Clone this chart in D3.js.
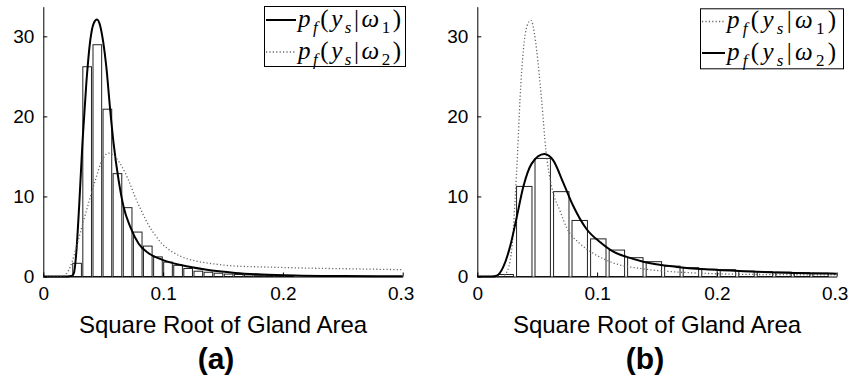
<!DOCTYPE html>
<html>
<head>
<meta charset="utf-8">
<script src="https://d3js.org/d3.v7.min.js"></script>
<style>
	body {
		margin: 0;
		background: #fff;
	}
	svg {
		display: block;
	}
	.axis path, .axis line {
		stroke: #000;
		stroke-width: 1px;
	}
	.bar {
		fill: #fff;
		stroke: #222;
		stroke-width: 1px;
	}
	.x-title {
		font-family: "Liberation Sans", Arial, Helvetica, sans-serif;
		font-size: 24px;
		text-anchor: middle;
	}
	.panel-label {
		font-family: "Liberation Sans", Arial, Helvetica, sans-serif;
		font-size: 30px;
		font-weight: bold;
		text-anchor: middle;
	}
	.math {
		font-family: "Liberation Serif", "Times New Roman", serif;
		font-size: 25px;
	}
	.solid {
		fill: none;
		stroke: #000;
		stroke-width: 2px;
	}
	.dotted {
		fill: none;
		stroke: #666;
		stroke-width: 1.3px;
		stroke-dasharray: 1.2, 2.2;
	}
</style>
</head>

<body>

	<script>

		// histogram (a): bin centres and heights
		var binsA = [0.0282, 0.0366, 0.0451, 0.0535, 0.0619, 0.0704, 0.0788, 0.0872, 0.0957, 0.1041, 0.1125,
			0.1209, 0.1294, 0.1378, 0.1462, 0.1547, 0.1631, 0.1715, 0.1800, 0.1884, 0.1968, 0.2053];
		var countsA = [1.65, 26.2, 28.95, 20.9, 12.85, 8.6, 5.55, 3.8, 2.45, 1.8, 1.4,
			1.0, 0.66, 0.53, 0.41, 0.3, 0.25, 0.2, 0.15, 0.1, 0.07, 0.05];

		// histogram (b)
		var binsB = [0.0237, 0.0392, 0.0546, 0.0701, 0.0855, 0.1010, 0.1165, 0.1319, 0.1474, 0.1628, 0.1783,
			0.1938, 0.2092, 0.2247, 0.2401, 0.2556, 0.2711, 0.2865];
		var countsB = [0.25, 11.25, 14.75, 10.6, 7.0, 4.7, 3.3, 2.35, 1.85, 1.3, 1.1,
			0.9, 0.85, 0.67, 0.6, 0.55, 0.47, 0.42];

		// density curves, [x, p]
		var curveA1 = [[0, 0], [0.020, 0], [0.0235, 0.05], [0.0255, 0.4], [0.0275, 2.9], [0.030, 9.0], [0.0328, 17.0],
			[0.0359, 24.1], [0.0392, 29.5], [0.0420, 31.6], [0.0448, 32.1], [0.0475, 31.3], [0.0500, 29.3],
			[0.0526, 26.2], [0.0559, 20.7], [0.0587, 16.6], [0.0629, 12.0], [0.067, 8.7], [0.0726, 6.2],
			[0.0796, 4.1], [0.0879, 2.9], [0.099, 2.1], [0.1157, 1.4], [0.1352, 0.87], [0.1603, 0.45],
			[0.1825, 0.25], [0.21, 0.12], [0.25, 0.05], [0.30, 0.02]];
		var curveA2 = [[0, 0], [0.016, 0], [0.019, 0.3], [0.0225, 1.2], [0.028, 3.9], [0.0337, 7.0], [0.0392, 9.9],
			[0.0434, 12.0], [0.049, 14.5], [0.0545, 15.4], [0.0601, 14.9], [0.0657, 13.7], [0.0712, 12.0],
			[0.0768, 9.9], [0.0824, 8.05], [0.0879, 6.4], [0.0935, 5.15], [0.099, 4.1], [0.1074, 3.1],
			[0.1157, 2.45], [0.1269, 1.95], [0.1436, 1.55], [0.1603, 1.3], [0.1825, 1.2], [0.22, 1.05],
			[0.26, 0.95], [0.30, 0.85]];
		var curveB1 = [[0, 0], [0.020, 0], [0.024, 0.4], [0.0287, 3.3], [0.0315, 9.5], [0.0337, 15.7], [0.0356, 22],
			[0.0384, 28.2], [0.0415, 31.3], [0.0448, 32], [0.0475, 30.5], [0.0496, 28.2], [0.0537, 22],
			[0.0573, 15.7], [0.0621, 11.2], [0.069, 8.2], [0.0746, 6.1], [0.0857, 4.1], [0.0968, 2.9],
			[0.1135, 1.7], [0.1386, 0.95], [0.166, 0.57], [0.194, 0.37], [0.236, 0.25], [0.29, 0.2], [0.30, 0.19]];
		var curveB2 = [[0, 0], [0.012, 0], [0.0162, 0.1], [0.0217, 1.2], [0.0273, 3.7], [0.0329, 7.4], [0.0384, 11.2],
			[0.0454, 14.1], [0.0559, 15.3], [0.0634, 14.5], [0.0718, 11.7], [0.0801, 8.8], [0.0913, 5.9],
			[0.1024, 4.3], [0.1135, 3.1], [0.1247, 2.45], [0.1386, 1.85], [0.1664, 1.2], [0.194, 0.87],
			[0.222, 0.66], [0.25, 0.5], [0.2916, 0.37], [0.30, 0.35]];

		var xTicks = [0, 0.1, 0.2, 0.3];
		var yTicks = [0, 10, 20, 30];
		var xTitle = "Square Root of Gland Area";
		var panelNames = ["(a)", "(b)"];

		var svg = d3.select("body").append("svg")
			.attr("width", 849)
			.attr("height", 380);

		svg.append("rect").attr("width", 849).attr("height", 380).attr("fill", "#fff");

		var yMax = 33.7;
		var plotTop = 6.7, plotBottom = 276.5;

		var panels = [
			{left: 43.3, right: 402.7, bins: binsA, counts: countsA, barRatio: 0.86,
			 curves: [{data: curveA1, cls: "solid"}, {data: curveA2, cls: "dotted"}],
			 legend: {x: 264, y: 6, w: 141, h: 60, sample: 30, textW: 103, rows: [26.5, 58.5]},
			 name: panelNames[0], nameX: 216},
			{left: 477.3, right: 836.7, bins: binsB, counts: countsB, barRatio: 0.83,
			 curves: [{data: curveB1, cls: "dotted"}, {data: curveB2, cls: "solid"}],
			 legend: {x: 700, y: 8.3, w: 143, h: 60, sample: 23, textW: 109, rows: [28, 59.5]},
			 name: panelNames[1], nameX: 645}
		];

		function mathLabel(g, x, y, sub, width) {
			var t = g.append("text")
				.attr("class", "math")
				.attr("x", x)
				.attr("y", y)
				.attr("textLength", width)
				.attr("lengthAdjust", "spacing");
			t.append("tspan").text("p").style("font-style", "italic");
			t.append("tspan").text("f").attr("dy", 6).style("font-size", "17px").style("font-style", "italic");
			t.append("tspan").text("(").attr("dy", -6);
			t.append("tspan").text("y").style("font-style", "italic");
			t.append("tspan").text("s").attr("dy", 6).style("font-size", "17px").style("font-style", "italic");
			t.append("tspan").text("|").attr("dy", -6);
			t.append("tspan").text("\u03c9").style("font-style", "italic");
			t.append("tspan").text(sub).attr("dy", 6).style("font-size", "17px");
			t.append("tspan").text(")").attr("dy", -6);
		}

		panels.forEach(function(p) {
			var x = d3.scaleLinear().domain([0, 0.3]).range([p.left, p.right]);
			var y = d3.scaleLinear().domain([0, yMax]).range([plotBottom, plotTop]);
			var g = svg.append("g");

			var step = x(p.bins[1]) - x(p.bins[0]);
			var bw = step * p.barRatio;

			g.selectAll(".bar")
				.data(p.counts)
				.enter().append("rect")
				.attr("class", "bar")
				.attr("x", function(d, i) { return x(p.bins[i]) - bw / 2; })
				.attr("y", function(d) { return y(d); })
				.attr("width", bw)
				.attr("height", function(d) { return plotBottom - y(d); });

			var line = d3.line()
				.x(function(d) { return x(d[0]); })
				.y(function(d) { return y(d[1]); })
				.curve(d3.curveMonotoneX);

			p.curves.forEach(function(c) {
				g.append("path").attr("class", c.cls).attr("d", line(c.data));
			});

			var xa = g.append("g")
				.attr("class", "axis")
				.attr("transform", "translate(0," + plotBottom + ")")
				.call(d3.axisBottom(x).tickValues(xTicks).tickFormat(d3.format(""))
					.tickSizeInner(-4).tickSizeOuter(0).tickPadding(10));

			var ya = g.append("g")
				.attr("class", "axis")
				.attr("transform", "translate(" + p.left + ",0)")
				.call(d3.axisLeft(y).tickValues(yTicks)
					.tickSizeInner(-4).tickSizeOuter(0).tickPadding(9));

			[xa, ya].forEach(function(a) {
				a.attr("font-family", null).attr("font-size", null);
				a.selectAll(".tick text")
					.style("font-family", "'Liberation Sans', Arial, Helvetica, sans-serif")
					.style("font-size", "19px")
					.style("fill", "#000");
			});
			// last x label sits right at the page edge; nudge it in a little
			xa.selectAll(".tick text").filter(function(d) { return d === 0.3; }).attr("dx", -2);

			g.append("text")
				.attr("class", "x-title")
				.attr("x", (p.left + p.right) / 2)
				.attr("y", 333)
				.text(xTitle);

			g.append("text")
				.attr("class", "panel-label")
				.attr("x", p.nameX)
				.attr("y", 369)
				.text(p.name);

			// legend
			var L = p.legend;
			var lg = g.append("g");
			lg.append("rect")
				.attr("x", L.x + 0.5).attr("y", L.y + 0.5)
				.attr("width", L.w).attr("height", L.h)
				.attr("fill", "#fff").attr("stroke", "#000").attr("stroke-width", 1);
			p.curves.forEach(function(c, i) {
				var ry = L.rows[i];
				lg.append("line")
					.attr("class", c.cls)
					.attr("x1", L.x + 2).attr("x2", L.x + 2 + L.sample)
					.attr("y1", ry - 6.5).attr("y2", ry - 6.5);
				mathLabel(lg, L.x + 4 + L.sample, ry, String(i + 1), L.textW);
			});
		});

	</script>
</body>
</html>
